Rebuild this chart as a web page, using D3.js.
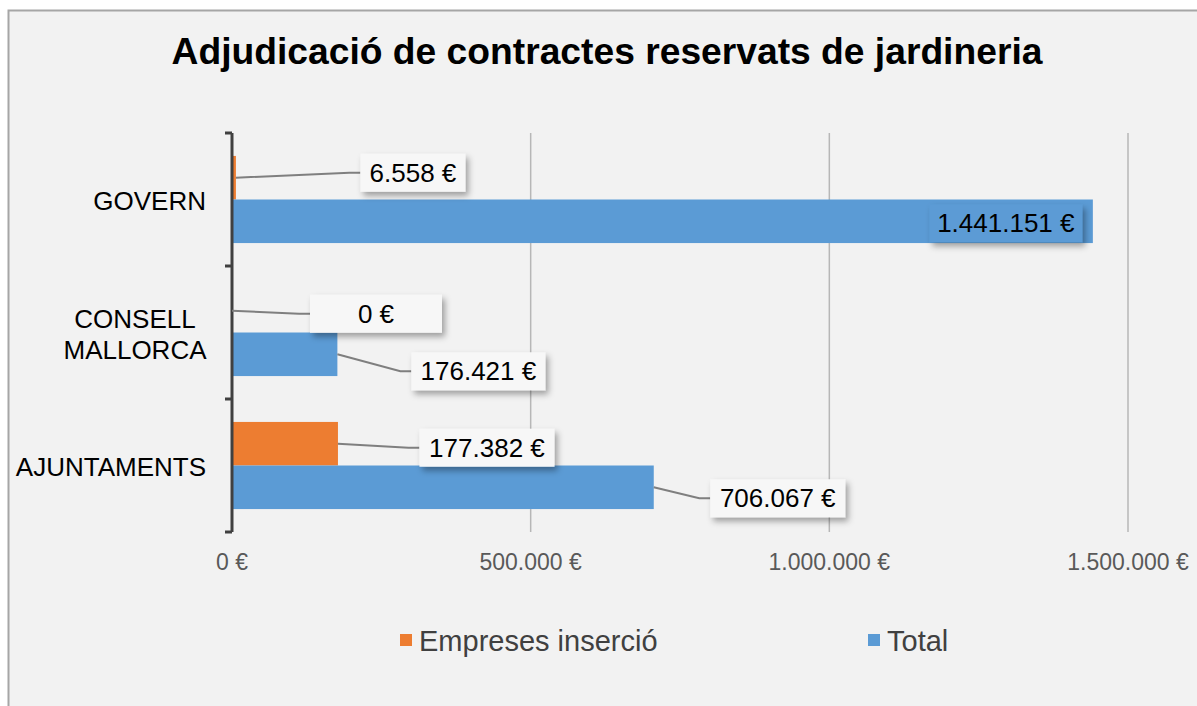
<!DOCTYPE html>
<html>
<head>
<meta charset="utf-8">
<script src="https://cdn.jsdelivr.net/npm/d3@7"></script>
<style>
  body { margin: 0; background: #ffffff; }
  svg { display: block; }
</style>
</head>
<body>
<svg id="chart"></svg>
<script>
var categories = ["GOVERN", "CONSELL MALLORCA", "AJUNTAMENTS"];
var empreses = [6558, 0, 177382];
var total = [1441151, 176421, 706067];
var xTicks = [0, 500000, 1000000, 1500000];
var seriesNames = ["Empreses inserció", "Total"];

// label placement, relative to bar end / bar centre
var empresesLabel = [
  { dx: 177, dy: -5, w: 105 },
  { dx: 144, dy: 3, w: 132 },
  { dx: 149, dy: 4, w: 135 }
];
var totalLabel = [
  { dx: -87, dy: 2, w: 153, inside: true },
  { dx: 141, dy: 17, w: 134 },
  { dx: 124, dy: 11, w: 135 }
];

var W = 1197, H = 706;
var orange = "#ed7d31", blue = "#5b9bd5";
var font = "'Liberation Sans', Arial, sans-serif";

var svg = d3.select("#chart")
  .attr("width", W)
  .attr("height", H);

var defs = svg.append("defs");
var f = defs.append("filter")
  .attr("id", "shadow")
  .attr("x", "-20%").attr("y", "-30%")
  .attr("width", "150%").attr("height", "170%");
f.append("feDropShadow")
  .attr("dx", 3).attr("dy", 4)
  .attr("stdDeviation", 3)
  .attr("flood-color", "#000")
  .attr("flood-opacity", 0.35);

// background + frame
svg.append("rect")
  .attr("x", 8.5).attr("y", 10.5)
  .attr("width", W + 10).attr("height", H + 10)
  .attr("fill", "#f2f2f2")
  .attr("stroke", "#a6a6a6")
  .attr("stroke-width", 2);

var title = svg.append("text")
  .text("Adjudicació de contractes reservats de jardineria")
  .attr("x", 607)
  .attr("y", 64)
  .attr("text-anchor", "middle")
  .attr("font-family", font)
  .attr("font-weight", "bold")
  .attr("font-size", 34)
  .attr("fill", "#000");
var tw = title.node().getComputedTextLength();
title.attr("font-size", 34 * 871 / tw);

var x = d3.scaleLinear()
  .domain([0, 1500000])
  .range([232, 1128]);

var y = d3.scaleBand()
  .domain(categories)
  .range([133, 532])
  .paddingInner(0.345)
  .paddingOuter(0.1725);

var yTop = 133, yBottom = 532;

function euro(v) {
  return d3.format(",")(v).replace(/,/g, ".") + " €";
}

// gridlines
svg.append("g")
  .selectAll("line")
  .data(xTicks.slice(1))
  .join("line")
  .attr("x1", function(d) { return x(d); })
  .attr("x2", function(d) { return x(d); })
  .attr("y1", yTop)
  .attr("y2", yBottom)
  .attr("stroke", "#b7b7b7")
  .attr("stroke-width", 1.5);

// x tick labels
svg.append("g")
  .selectAll("text")
  .data(xTicks)
  .join("text")
  .text(euro)
  .attr("x", function(d) { return x(d); })
  .attr("y", 570)
  .attr("text-anchor", "middle")
  .attr("font-family", font)
  .attr("font-size", 23)
  .attr("fill", "#595959");

var bandH = y.bandwidth();
var barH = bandH / 2;

// bars
var gBars = svg.append("g");
gBars.selectAll("rect.emp")
  .data(empreses)
  .join("rect")
  .attr("class", "emp")
  .attr("x", x(0))
  .attr("y", function(d, i) { return y(categories[i]); })
  .attr("width", function(d) { return x(d) - x(0); })
  .attr("height", barH)
  .attr("fill", orange);

gBars.selectAll("rect.tot")
  .data(total)
  .join("rect")
  .attr("class", "tot")
  .attr("x", x(0))
  .attr("y", function(d, i) { return y(categories[i]) + barH; })
  .attr("width", function(d) { return x(d) - x(0); })
  .attr("height", barH)
  .attr("fill", blue);

// y axis
var ga = svg.append("g").attr("transform", "translate(" + x(0) + ",0)");
ga.append("line")
  .attr("x1", 0).attr("x2", 0)
  .attr("y1", yTop).attr("y2", yBottom)
  .attr("stroke", "#404040")
  .attr("stroke-width", 3);
var sep = [yTop].concat(categories.map(function(c) { return y(c) + bandH + y.step() * y.paddingInner() / 2; }));
ga.selectAll("line.tick")
  .data(sep)
  .join("line")
  .attr("class", "tick")
  .attr("x1", -7).attr("x2", 0)
  .attr("y1", function(d) { return d; })
  .attr("y2", function(d) { return d; })
  .attr("stroke", "#404040")
  .attr("stroke-width", 3);

// category labels
var gCat = svg.append("g");
categories.forEach(function(c) {
  var cy = y(c) + bandH / 2;
  if (c == "CONSELL MALLORCA") {
    var t = gCat.append("text")
      .attr("text-anchor", "middle")
      .attr("font-family", font)
      .attr("font-size", 26)
      .attr("fill", "#000");
    ["CONSELL", "MALLORCA"].forEach(function(p, k) {
      t.append("tspan")
        .text(p)
        .attr("x", 135)
        .attr("y", cy + 10.5 + (k - 0.5) * 31);
    });
  } else {
    gCat.append("text")
      .text(c)
      .attr("x", 206)
      .attr("y", cy + 10.5)
      .attr("text-anchor", "end")
      .attr("font-family", font)
      .attr("font-size", 26)
      .attr("fill", "#000");
  }
});

// data labels
function drawLabels(vals, offs, yOff) {
  var g = svg.append("g");
  vals.forEach(function(v, i) {
    var o = offs[i];
    var bx = x(v);
    var by = y(categories[i]) + yOff + barH / 2;
    var cx = bx + o.dx, cy = by + o.dy;
    var bw = o.w, bh = 38;
    var left = cx - bw / 2;
    if (!o.inside) {
      g.append("polyline")
        .attr("points", [[bx, by], [left - 11, cy], [left, cy]].map(function(p) { return p.join(","); }).join(" "))
        .attr("fill", "none")
        .attr("stroke", "#7f7f7f")
        .attr("stroke-width", 2);
    }
    g.append("rect")
      .attr("x", left)
      .attr("y", cy - bh / 2)
      .attr("width", bw)
      .attr("height", bh)
      .attr("fill", o.inside ? blue : "#f7f7f7")
      .attr("filter", "url(#shadow)");
    g.append("text")
      .text(euro(v))
      .attr("x", cx)
      .attr("y", cy + 9)
      .attr("text-anchor", "middle")
      .attr("font-family", font)
      .attr("font-size", 26)
      .attr("fill", "#000");
  });
}
drawLabels(empreses, empresesLabel, 0);
drawLabels(total, totalLabel, barH);

// legend
var legendX = [400, 868];
var lg = svg.append("g");
seriesNames.forEach(function(s, i) {
  lg.append("rect")
    .attr("x", legendX[i])
    .attr("y", 634)
    .attr("width", 12)
    .attr("height", 12)
    .attr("fill", i == 0 ? orange : blue);
  lg.append("text")
    .text(s)
    .attr("x", legendX[i] + 19)
    .attr("y", 651)
    .attr("font-family", font)
    .attr("font-size", 29)
    .attr("fill", "#404040");
});
</script>
</body>
</html>
